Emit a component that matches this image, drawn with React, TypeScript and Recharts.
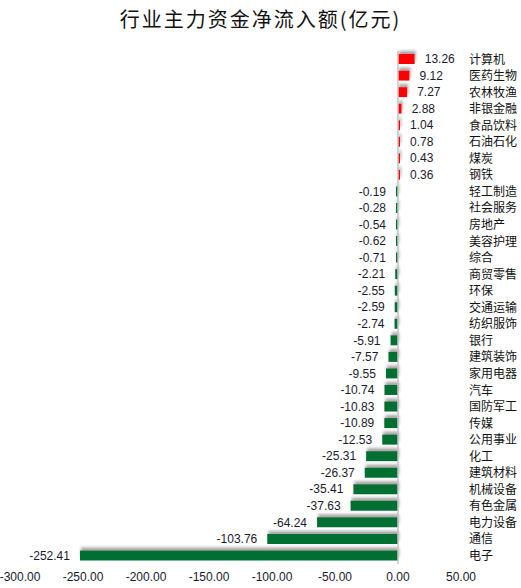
import { BarChart, Bar, XAxis, YAxis, Cell, LabelList, ReferenceLine } from 'recharts';

const INDUSTRIES = [
    '计算机', '医药生物', '农林牧渔', '非银金融', '食品饮料', '石油石化', '煤炭', '钢铁',
    '轻工制造', '社会服务', '房地产', '美容护理', '综合', '商贸零售', '环保', '交通运输',
    '纺织服饰', '银行', '建筑装饰', '家用电器', '汽车', '国防军工', '传媒', '公用事业',
    '化工', '建筑材料', '机械设备', '有色金属', '电力设备', '通信', '电子',
];

const NET_INFLOW = [
    13.26, 9.12, 7.27, 2.88, 1.04, 0.78, 0.43, 0.36,
    -0.19, -0.28, -0.54, -0.62, -0.71, -2.21, -2.55, -2.59,
    -2.74, -5.91, -7.57, -9.55, -10.74, -10.83, -10.89, -12.53,
    -25.31, -26.37, -35.41, -37.63, -64.24, -103.76, -252.41,
];

const X_TICKS = [-300, -250, -200, -150, -100, -50, 0, 50];

const data = INDUSTRIES.map((name, i) => ({ name, value: NET_INFLOW[i] }));

const valueLabel = (props: any) => {
    const { x, y, width, height, value } = props;
    const left = Math.min(x, x + width);
    const right = Math.max(x, x + width);
    const pos = value >= 0;
    return (
        <text
            x={pos ? right + 10 : left - 10}
            y={y + height / 2}
            dy="0.35em"
            textAnchor={pos ? 'start' : 'end'}
            fontSize={12}
            fontFamily="Liberation Sans, Arial"
            fill="#1a1a2e"
        >
            {value.toFixed(2)}
        </text>
    );
};

export default function App() {
    return (
        <div style={{ position: 'absolute', left: 0, top: 0, width: 521, height: 588, background: '#fff' }}>
            <div
                style={{
                    position: 'absolute',
                    top: 4,
                    left: 0,
                    width: 521,
                    textAlign: 'center',
                    fontFamily: '"Noto Sans CJK SC"',
                    fontSize: 20,
                    letterSpacing: 2,
                    color: '#111',
                }}
            >
                行业主力资金净流入额(亿元)
            </div>
            <BarChart
                width={521}
                height={588}
                data={data}
                layout="vertical"
                margin={{ top: 51, right: 0, left: 20, bottom: 4 }}
            >
                <defs>
                    <filter id="barShadow" filterUnits="userSpaceOnUse" x={0} y={0} width={521} height={588}>
                        <feDropShadow dx={1} dy={-3} stdDeviation={1.5} floodColor="#888" floodOpacity={0.75} />
                    </filter>
                </defs>
                <XAxis
                    type="number"
                    domain={[-300, 50]}
                    ticks={X_TICKS}
                    interval={0}
                    tickFormatter={(v: number) => v.toFixed(2)}
                    axisLine={false}
                    tickLine={false}
                    height={20}
                    tick={{ fontSize: 12, fontFamily: 'Liberation Sans, Arial', fill: '#1a1a2e' }}
                />
                <YAxis
                    type="category"
                    dataKey="name"
                    orientation="right"
                    width={60}
                    interval={0}
                    axisLine={false}
                    tickLine={false}
                    tick={{ fontSize: 12, fontFamily: '"Noto Sans CJK SC"', fill: '#111', textAnchor: 'start' }}
                />
                {/* zero line */}
                <ReferenceLine x={0} stroke="#c4c4c4" strokeWidth={1.5} />
                <Bar dataKey="value" barSize={10} minPointSize={2} isAnimationActive={false} filter="url(#barShadow)">
                    {data.map((d, i) => (
                        <Cell key={`c-${i}`} fill={d.value >= 0 ? '#ff0000' : '#007033'} />
                    ))}
                    <LabelList dataKey="value" content={valueLabel} />
                </Bar>
            </BarChart>
        </div>
    );
}
